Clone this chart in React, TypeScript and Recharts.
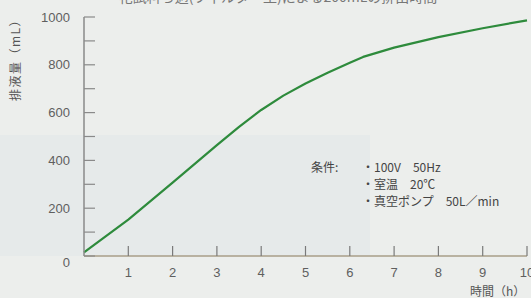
import React from "react";
import { LineChart, Line, XAxis, YAxis } from "recharts";

const hours = [0, 1, 2, 3, 3.5, 4, 4.5, 5, 5.5, 6, 6.3, 7, 8, 9, 10];
const volume = [15, 152, 307, 464, 540, 611, 671, 722, 767, 809, 833, 872, 916, 953, 986];
const xTicks = [1, 2, 3, 4, 5, 6, 7, 8, 9, 10];
const yTicks = [0, 100, 200, 300, 400, 500, 600, 700, 800, 900, 1000];
const yLabelValues = [0, 200, 400, 600, 800, 1000];
const conditionLabel = "条件:";
const conditions = ["・100V　50Hz", "・室温　20℃", "・真空ポンプ　50L／min"];
const yTitle = "排液量（mL）";
const xTitle = "時間（h）";
const topTitle = "花試料ろ過(フィルター型)による200mLの排出時間";

const data = hours.map((h, i) => ({ h, v: volume[i] }));

const W = 531;
const H = 298;
const LEFT = 84;
const TOP = 17;
const BOTTOM = 256;
const RIGHT = 527;

const numFont = "'Liberation Sans', Arial, sans-serif";
const jpFont = "'Noto Sans CJK JP', sans-serif";

const YTick = (props: any) => {
  const { y, payload } = props;
  const v = payload.value;
  return (
    <g>
      <line x1={LEFT} x2={LEFT + 11} y1={y} y2={y} stroke="#8a8a8a" strokeWidth={1.2} />
      {yLabelValues.includes(v) && (
        <text
          x={70}
          y={y + (v === 0 ? 6 : 0)}
          dy="0.35em"
          textAnchor="end"
          fill="#5f5f5f"
          fontSize={13}
          fontFamily={numFont}
        >
          {v}
        </text>
      )}
    </g>
  );
};

const XTick = (props: any) => {
  const { x, payload } = props;
  return (
    <g>
      <line x1={x} x2={x} y1={BOTTOM} y2={BOTTOM - 10} stroke="#7a7a7a" strokeWidth={1.2} />
      <text x={x} y={272} dy="0.35em" textAnchor="middle" fill="#5f5f5f" fontSize={13} fontFamily={numFont}>
        {payload.value}
      </text>
    </g>
  );
};

export default function App() {
  return (
    <div style={{ position: "absolute", left: 0, top: 0, width: W, height: H, background: "#eceeec", overflow: "hidden" }}>
      <svg width={W} height={H} style={{ position: "absolute", left: 0, top: 0 }}>
        <rect x={0} y={135} width={370} height={121} fill="#e6eaea" />
      </svg>
      <div style={{ position: "absolute", left: 0, top: 0 }}>
        <LineChart width={W} height={H} data={data} margin={{ top: TOP, right: W - RIGHT, bottom: 0, left: 0 }}>
          <XAxis
            dataKey="h"
            type="number"
            domain={[0, 10]}
            ticks={xTicks}
            height={H - BOTTOM}
            axisLine={{ stroke: "#a89e88", strokeWidth: 1.5 }}
            tickLine={false}
            tick={<XTick />}
            interval={0}
          />
          <YAxis
            type="number"
            domain={[0, 1000]}
            ticks={yTicks}
            width={LEFT}
            axisLine={{ stroke: "#8a8a8a", strokeWidth: 1.5 }}
            tickLine={false}
            tick={<YTick />}
            interval={0}
          />
          <Line
            type="linear"
            dataKey="v"
            stroke="#2e8b3c"
            strokeWidth={2.2}
            strokeLinejoin="round"
            dot={false}
            isAnimationActive={false}
          />
        </LineChart>
      </div>
      <svg width={W} height={H} style={{ position: "absolute", left: 0, top: 0, pointerEvents: "none" }}>
        <text x={278} y={2} textAnchor="middle" fill="#777" fontSize={14} fontFamily={jpFont}>
          {topTitle}
        </text>
        <text
          x={16}
          y={57}
          transform="rotate(-90 16 57)"
          textAnchor="middle"
          dy="0.35em"
          fill="#555"
          fontSize={12}
          letterSpacing={1.5}
          fontFamily={jpFont}
        >
          {yTitle}
        </text>
        <text x={470} y={292} dy="0.35em" fill="#555" fontSize={12} fontFamily={jpFont}>
          {xTitle}
        </text>
        <text x={311} y={168} dy="0.35em" fill="#444" fontSize={12} fontFamily={jpFont}>
          {conditionLabel}
        </text>
        {conditions.map((c, i) => (
          <text key={i} x={362} y={168 + i * 17} dy="0.35em" fill="#444" fontSize={12} fontFamily={jpFont}>
            {c}
          </text>
        ))}
      </svg>
    </div>
  );
}
